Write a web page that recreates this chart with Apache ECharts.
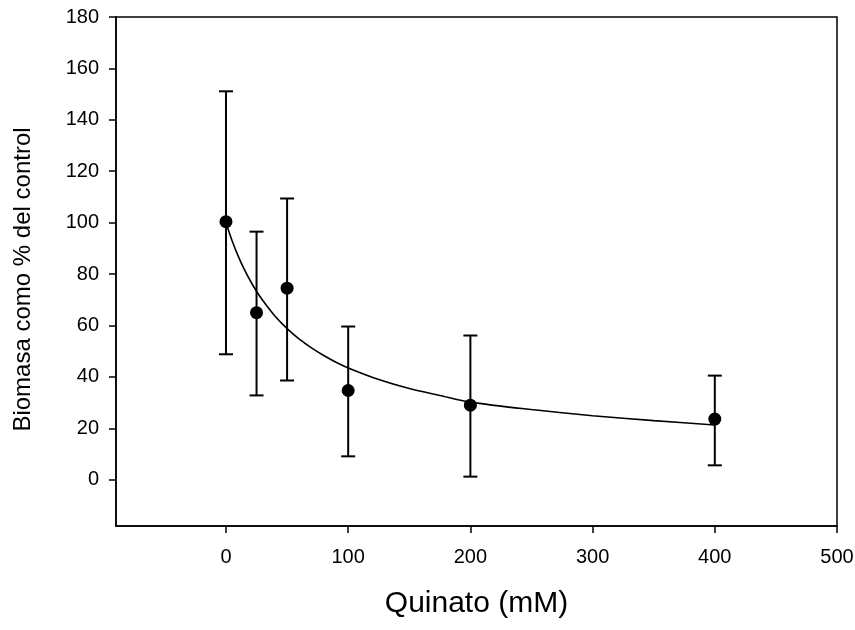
<!DOCTYPE html>
<html>
<head>
<meta charset="utf-8">
<script src="https://cdn.jsdelivr.net/npm/echarts@6/dist/echarts.min.js"></script>
<style>html,body{margin:0;padding:0;background:#fff;}#c{width:855px;height:630px;}</style>
</head>
<body>
<div id="c"></div>
<script>
// Data
var concentrations = [0, 25, 50, 100, 200, 400];
var biomassMean = [100.4, 65.0, 74.5, 34.7, 29.0, 23.6];
var errorLow = [48.8, 32.8, 38.6, 9.1, 1.2, 5.6];
var errorHigh = [151.1, 96.5, 109.4, 59.6, 56.1, 40.5];
var curveX = [0, 5, 10, 15, 20, 25, 30, 40, 50, 60, 70, 80, 90, 100, 125, 150, 175, 200, 250, 300, 350, 400];
var curveY = [100, 93.0, 87.0, 81.8, 77.3, 73.3, 69.8, 63.7, 58.8, 54.7, 51.3, 48.3, 45.7, 43.5, 39.0, 35.5, 32.8, 30.2, 27.3, 24.9, 23.0, 21.3];
var xTicks = [0, 100, 200, 300, 400, 500];
var yTicks = [0, 20, 40, 60, 80, 100, 120, 140, 160, 180];

var font = 'Liberation Sans, Arial, sans-serif';
var chart = echarts.init(document.getElementById('c'), null, {renderer: 'canvas'});

var pointData = concentrations.map(function (x, i) { return [x, biomassMean[i]]; });
var errData = concentrations.map(function (x, i) { return [x, errorLow[i], errorHigh[i]]; });
var lineData = curveX.map(function (x, i) { return [x, curveY[i]]; });

chart.setOption({
  animation: false,
  backgroundColor: '#fff',
  grid: {left: 116, right: 18, top: 17, bottom: 104, outerBoundsMode: 'none', containLabel: false, show: true, borderColor: '#000', borderWidth: 1.5, backgroundColor: 'transparent'},
  xAxis: {
    type: 'value', min: -90, max: 500,
    name: 'Quinato (mM)', nameLocation: 'middle', nameGap: 63,
    nameTextStyle: {fontFamily: font, fontSize: 30, color: '#000'},
    axisLine: {show: true, onZero: false, lineStyle: {color: '#000', width: 1.5}},
    axisTick: {show: true, length: 7, inside: false, customValues: xTicks, lineStyle: {color: '#000', width: 1.5}},
    axisLabel: {customValues: xTicks, margin: 21, fontFamily: font, fontSize: 20, color: '#000'},
    splitLine: {show: false}
  },
  yAxis: {
    type: 'value', min: -18, max: 180,
    name: 'Biomasa como % del control', nameLocation: 'middle', nameGap: 81, nameRotate: 90,
    nameTextStyle: {fontFamily: font, fontSize: 24, color: '#000', padding: [0, 16, 0, 0]},
    axisLine: {show: true, onZero: false, lineStyle: {color: '#000', width: 1.5}},
    axisTick: {show: true, length: 7, inside: false, customValues: yTicks, lineStyle: {color: '#000', width: 1.5}},
    axisLabel: {customValues: yTicks, margin: 17, fontFamily: font, fontSize: 20, color: '#000'},
    splitLine: {show: false}
  },
  series: [
    {
      type: 'line', data: lineData, showSymbol: false, smooth: 0.3,
      lineStyle: {color: '#000', width: 1.6}, z: 2
    },
    {
      type: 'custom', z: 3,
      data: errData,
      renderItem: function (params, api) {
        var x = api.value(0);
        var lo = api.coord([x, api.value(1)]);
        var hi = api.coord([x, api.value(2)]);
        var hw = 7;
        var st = {stroke: '#000', lineWidth: 2};
        return {
          type: 'group',
          children: [
            {type: 'line', shape: {x1: lo[0], y1: lo[1], x2: hi[0], y2: hi[1]}, style: st},
            {type: 'line', shape: {x1: lo[0] - hw, y1: lo[1], x2: lo[0] + hw, y2: lo[1]}, style: st},
            {type: 'line', shape: {x1: hi[0] - hw, y1: hi[1], x2: hi[0] + hw, y2: hi[1]}, style: st}
          ]
        };
      }
    },
    {
      type: 'scatter', data: pointData, symbol: 'circle', symbolSize: 13,
      itemStyle: {color: '#000', opacity: 1}, z: 4
    }
  ]
});
</script>
</body>
</html>
